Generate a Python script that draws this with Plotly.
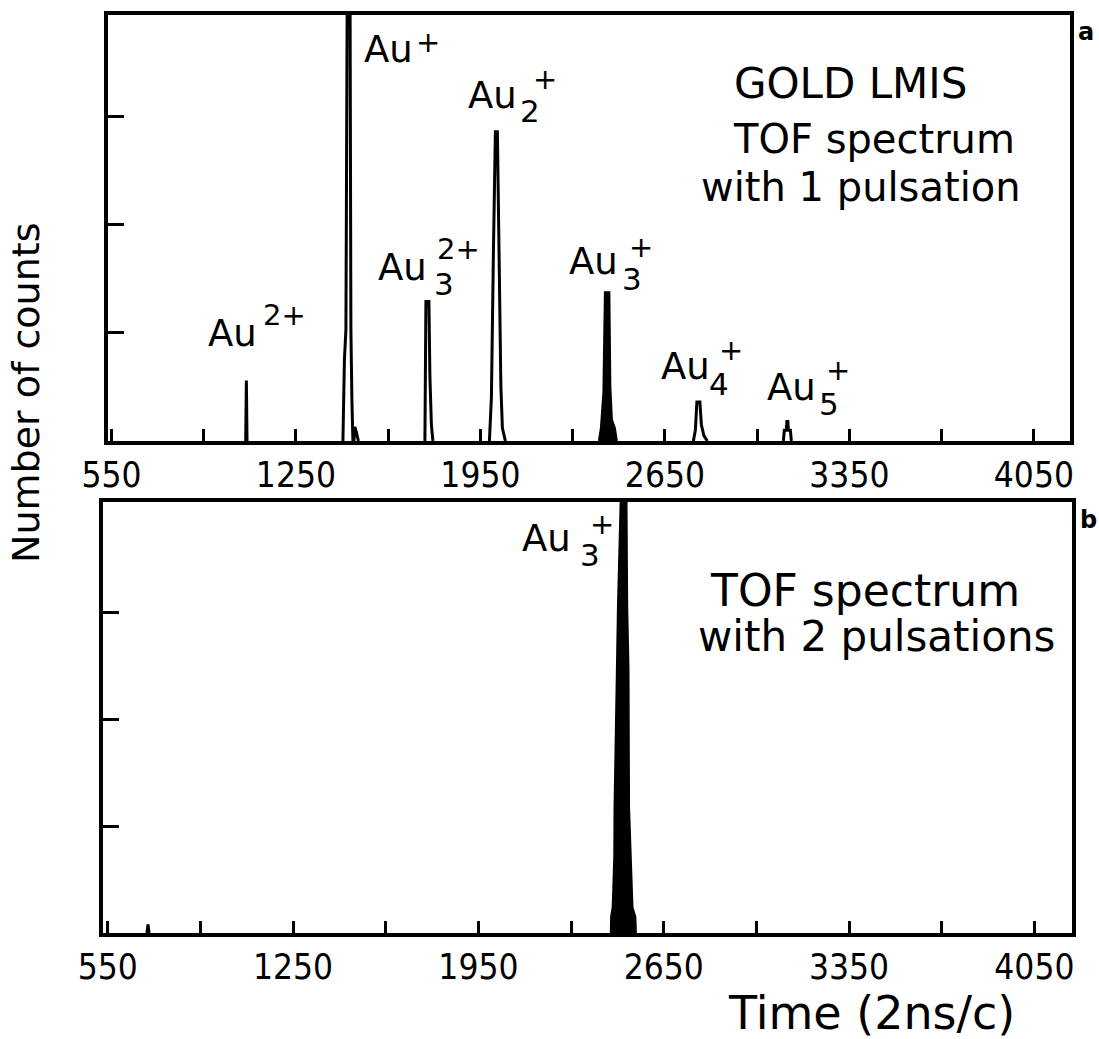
import plotly.graph_objects as go

W, H = 1099, 1039

# ---------------- Panel a: gold LMIS, TOF spectrum with 1 pulsation ----------------
# time in channels (2 ns/c), counts in axis units (ticks at 1, 2, 3)
au_2plus_t = [1059.5, 1062.0, 1064.5]
au_2plus_n = [0.0, 0.56, 0.0]

au_plus_t = [1428.3, 1434.0, 1439.7, 1445.4, 1454.9, 1458.6, 1462.4, 1466.2]
au_plus_n = [0.0, 0.75, 1.03, 4.6, 4.6, 1.03, 0.38, 0.0]

au_plus_tail_t = [1470.0, 1473.8, 1479.5, 1487.0]
au_plus_tail_n = [0.0, 0.13, 0.08, 0.0]

au3_2plus_t = [1739.4, 1743.2, 1754.6, 1758.3, 1764.0, 1769.7]
au3_2plus_n = [0.0, 1.29, 1.29, 0.6, 0.15, 0.0]

au2_plus_t = [1984.1, 1991.7, 1999.3, 2006.8, 2014.4, 2022.0, 2027.7, 2033.4, 2044.8]
au2_plus_n = [0.0, 0.4, 1.74, 2.86, 2.86, 1.74, 0.5, 0.12, 0.0]

au3_plus_t = [2401.4, 2409.0, 2418.5, 2424.2, 2437.4, 2441.2, 2446.9, 2458.3, 2465.9]
au3_plus_n = [0.0, 0.12, 0.45, 1.37, 1.37, 0.5, 0.2, 0.12, 0.0]

au4_plus_t = [2758.0, 2765.6, 2771.3, 2782.7, 2788.4, 2797.8, 2811.1]
au4_plus_n = [0.0, 0.1, 0.36, 0.36, 0.15, 0.05, 0.0]

au5_plus_t = [3099.4, 3103.2, 3110.8, 3112.7, 3116.5, 3118.4, 3126.0, 3129.8]
au5_plus_n = [0.0, 0.1, 0.1, 0.18, 0.18, 0.1, 0.1, 0.0]

# ---------------- Panel b: TOF spectrum with 2 pulsations ----------------
b_bump_t = [698.0, 702.0, 706.0]
b_bump_n = [0.0, 0.08, 0.0]

b_au3_plus_t = [2452, 2453, 2459, 2465, 2466, 2475, 2479, 2495, 2506, 2510,
                2515, 2517, 2523, 2530, 2541, 2543]
b_au3_plus_n = [0.0, 0.15, 0.24, 0.71, 1.18, 2.46, 3.07, 4.6, 4.6, 3.07,
                2.46, 1.18, 0.71, 0.24, 0.15, 0.0]

# axis ticks
x_tickvals = [550, 900, 1250, 1600, 1950, 2300, 2650, 3000, 3350, 3700, 4050]
x_ticktext = ["550", "", "1250", "", "1950", "", "2650", "", "3350", "", "4050"]
y_tickvals = [1, 2, 3]

INK = "black"
SANS = "DejaVu Sans, Verdana, sans-serif"
NARROW = "Liberation Sans Narrow, DejaVu Sans Condensed, Arial Narrow, sans-serif"

fig = go.Figure()

# (time, counts, filled) for each panel
panel_a = [
    (au_2plus_t, au_2plus_n, False),
    (au_plus_t, au_plus_n, False),
    (au_plus_tail_t, au_plus_tail_n, False),
    (au3_2plus_t, au3_2plus_n, False),
    (au2_plus_t, au2_plus_n, False),
    (au3_plus_t, au3_plus_n, True),
    (au4_plus_t, au4_plus_n, False),
    (au5_plus_t, au5_plus_n, False),
]
panel_b = [
    (b_bump_t, b_bump_n, True),
    (b_au3_plus_t, b_au3_plus_n, True),
]


def add_peaks(peaks, xref, yref):
    for t, n, filled in peaks:
        fig.add_trace(go.Scatter(
            x=t, y=n, mode="lines",
            line=dict(color=INK, width=3, shape="linear"),
            fill="tozeroy" if filled else None,
            fillcolor=INK,
            xaxis=xref, yaxis=yref, hoverinfo="skip",
        ))


add_peaks(panel_a, "x", "y")
add_peaks(panel_b, "x2", "y2")


def xaxis_style(domain_px, rng, anchor):
    return dict(
        domain=[domain_px[0] / W, domain_px[1] / W], range=rng, anchor=anchor,
        tickmode="array", tickvals=x_tickvals, ticktext=x_ticktext,
        ticks="inside", ticklen=12, tickwidth=3, tickcolor=INK,
        showline=True, linewidth=3.5, linecolor=INK, mirror=True,
        showgrid=False, zeroline=False, automargin=False,
        tickfont=dict(family=NARROW, size=35, color=INK),
        ticklabelstandoff=0,
    )


def yaxis_style(domain_px, rng, anchor):
    return dict(
        domain=[1 - domain_px[1] / H, 1 - domain_px[0] / H], range=rng, anchor=anchor,
        tickmode="array", tickvals=y_tickvals, showticklabels=False,
        ticks="inside", ticklen=16, tickwidth=3, tickcolor=INK,
        showline=True, linewidth=3.5, linecolor=INK, mirror=True,
        showgrid=False, zeroline=False, automargin=False,
    )


fig.update_layout(
    width=W, height=H,
    margin=dict(l=0, r=0, t=0, b=0),
    paper_bgcolor="white", plot_bgcolor="white",
    showlegend=False,
    xaxis=xaxis_style((108, 1070), [537, 4187], "y"),
    yaxis=yaxis_style((15, 441), [0, 3.94], "x"),
    xaxis2=xaxis_style((103, 1072), [532, 4192], "y2"),
    yaxis2=yaxis_style((502, 933), [0, 4.03], "x2"),
)


def text_at(x, y, s, size, family=SANS, xanchor="center", angle=0):
    fig.add_annotation(
        x=x / W, y=1 - y / H, xref="paper", yref="paper",
        text=s, showarrow=False, xanchor=xanchor, yanchor="middle",
        textangle=angle, borderpad=0,
        font=dict(family=family, size=size, color=INK),
    )


def ion_label(au_left, au_mid, sub=None, sub_pos=None, sup=None, sup_pos=None):
    text_at(au_left, au_mid, "Au", 37, xanchor="left")
    if sub:
        text_at(sub_pos[0], sub_pos[1], sub, 31)
    if sup:
        text_at(sup_pos[0], sup_pos[1], sup, 29)


# ion labels, panel a
ion_label(363, 49, sup="+", sup_pos=(428, 42))
ion_label(467, 95, sub="2", sub_pos=(530, 111), sup="+", sup_pos=(545, 79))
ion_label(377, 268, sub="3", sub_pos=(444, 284), sup="2+", sup_pos=(458, 249))
ion_label(207, 333, sup="2+", sup_pos=(284, 315))
ion_label(568, 262, sub="3", sub_pos=(632, 279), sup="+", sup_pos=(641, 247))
ion_label(660, 366, sub="4", sub_pos=(719, 384), sup="+", sup_pos=(731, 350))
ion_label(766, 387, sub="5", sub_pos=(829, 404), sup="+", sup_pos=(838, 370))
# ion label, panel b
ion_label(521, 538, sub="3", sub_pos=(590, 555), sup="+", sup_pos=(602, 524))

# panel captions
text_at(850, 83, "GOLD LMIS", 42)
text_at(874, 139, "TOF spectrum", 40)
text_at(861, 187, "with 1 pulsation", 40)
text_at(1086, 32, "<b>a</b>", 24)

text_at(865, 590, "TOF spectrum", 44)
text_at(876, 636, "with 2 pulsations", 42)
text_at(1088, 520, "<b>b</b>", 24)

# axis titles
text_at(871, 1013, "Time (2ns/c)", 46)
text_at(26, 393, "Number of counts", 38, angle=-90)

fig.write_html("out.html")
